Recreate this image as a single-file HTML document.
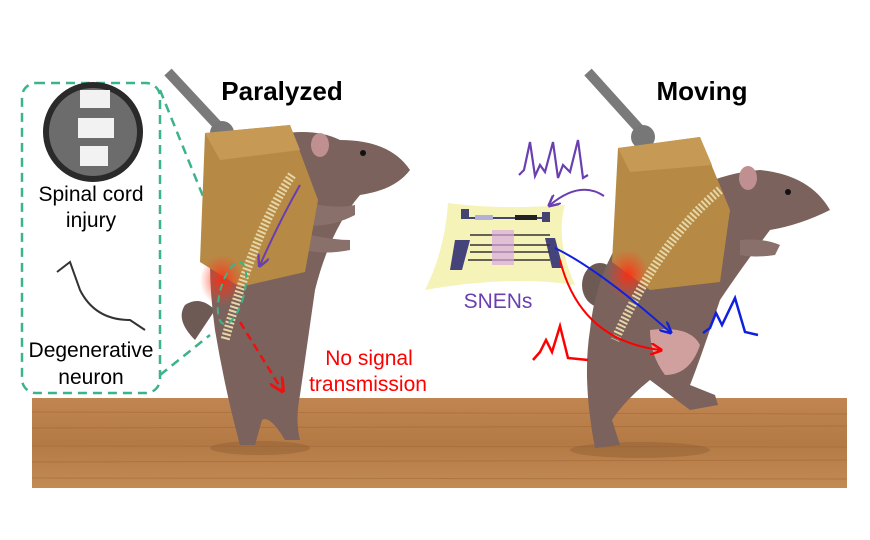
<!DOCTYPE html>
<html><head><meta charset="utf-8"><style>
html,body{margin:0;padding:0;background:#fff;}
svg{display:block;font-family:"Liberation Sans",sans-serif;}
</style></head><body>
<svg width="870" height="540" viewBox="0 0 870 540" xmlns="http://www.w3.org/2000/svg">
<defs>
<linearGradient id="wood" x1="0" y1="0" x2="0" y2="1">
<stop offset="0" stop-color="#c08550"/><stop offset="0.5" stop-color="#b47a45"/><stop offset="1" stop-color="#c28a55"/>
</linearGradient>
<radialGradient id="glow"><stop offset="0" stop-color="#ff2a10" stop-opacity="0.9"/><stop offset="1" stop-color="#ff4020" stop-opacity="0"/></radialGradient>
<marker id="ar" viewBox="0 0 10 10" refX="8" refY="5" markerWidth="6" markerHeight="6" orient="auto"><path d="M0,0 L10,5 L0,10" fill="none" stroke="context-stroke" stroke-width="2"/></marker>
</defs>
<rect x="32" y="398" width="815" height="90" fill="url(#wood)"/>
<g stroke="#9e6535" stroke-width="1" opacity="0.5">
<line x1="32" y1="412" x2="847" y2="414"/><line x1="32" y1="428" x2="847" y2="426"/><line x1="32" y1="446" x2="847" y2="447"/><line x1="32" y1="462" x2="847" y2="460"/><line x1="32" y1="478" x2="847" y2="479"/>
</g>
<ellipse cx="260" cy="448" rx="50" ry="7" fill="#8a5a30" opacity="0.4"/>
<ellipse cx="640" cy="450" rx="70" ry="8" fill="#8a5a30" opacity="0.4"/>
<rect x="22" y="83" width="138" height="310" rx="14" fill="none" stroke="#3db38a" stroke-width="2.5" stroke-dasharray="9,6"/>
<path d="M160,90 L228,258 M160,375 L210,335" stroke="#3db38a" stroke-width="2.5" stroke-dasharray="9,6" fill="none"/>
<circle cx="93" cy="132" r="47" fill="#6c6c6c" stroke="#2a2a2a" stroke-width="6"/>
<path d="M80,90 h30 v18 h-30z M78,118 h36 v20 h-36z M80,146 h28 v20 h-28z" fill="#f2f2f2"/>
<text x="91" y="201" font-size="21" text-anchor="middle">Spinal  cord</text>
<text x="91" y="227" font-size="21" text-anchor="middle">injury</text>
<path d="M57,272 L70,262 L80,290 Q95,320 130,320 L145,330" stroke="#333" stroke-width="2" fill="none"/>
<text x="91" y="357" font-size="21" text-anchor="middle">Degenerative</text>
<text x="91" y="384" font-size="21" text-anchor="middle">neuron</text>
<!-- LEFT RAT -->
<line x1="168" y1="72" x2="222" y2="130" stroke="#7a7a7a" stroke-width="10"/>
<circle cx="222" cy="133" r="12" fill="#777"/>
<path d="M195,340 Q175,320 185,305 Q200,295 215,310" fill="#6e5a55"/>
<path d="M225,150 Q300,120 340,140 Q390,140 410,170 Q395,190 360,195 Q330,230 315,290 Q305,360 300,395 Q295,420 300,440 L285,440 Q270,415 262,420 L255,445 L240,445 Q225,390 215,330 Q205,260 215,200 Z" fill="#7b625c"/>
<path d="M300,200 Q330,210 355,205 L355,215 Q330,228 305,225Z M310,235 Q335,240 350,240 L350,250 Q325,255 305,250Z" fill="#8a706a"/>
<circle cx="363" cy="153" r="3" fill="#111"/>
<ellipse cx="320" cy="145" rx="9" ry="12" fill="#c09090"/>
<path d="M205,133 L290,125 L318,200 L305,272 L240,287 L200,262 Z" fill="#b68a45"/>
<path d="M205,133 L290,125 L300,150 L220,160Z" fill="#c69a55"/>
<ellipse cx="222" cy="280" rx="22" ry="26" fill="url(#glow)"/>
<path d="M292,175 Q255,230 225,340" stroke="#e6d7a8" stroke-width="9" fill="none" stroke-dasharray="2,2"/>
<ellipse cx="232" cy="293" rx="12" ry="32" fill="none" stroke="#3db38a" stroke-width="2" stroke-dasharray="7,5" transform="rotate(15 232 293)"/>
<path d="M300,185 Q280,220 260,265" stroke="#6a3fb0" stroke-width="2" fill="none" marker-end="url(#ar)"/>
<path d="M240,322 L282,390" stroke="#e11" stroke-width="2.5" stroke-dasharray="8,5" fill="none" marker-end="url(#ar)"/>
<text x="369" y="365" font-size="21" fill="#f00" text-anchor="middle">No signal</text>
<text x="368" y="391" font-size="21" fill="#f00" text-anchor="middle">transmission</text>
<text x="282" y="100" font-size="26" font-weight="bold" text-anchor="middle">Paralyzed</text>
<!-- RIGHT RAT -->
<line x1="588" y1="72" x2="643" y2="133" stroke="#7a7a7a" stroke-width="10"/>
<circle cx="643" cy="137" r="12" fill="#777"/>
<ellipse cx="600" cy="285" rx="18" ry="22" fill="#6e5a55"/>
<path d="M620,240 Q690,175 760,170 Q810,175 830,210 Q800,225 770,230 Q740,270 720,300 Q700,360 690,385 L715,395 L718,405 L690,410 Q670,395 650,380 Q625,400 612,420 L620,445 L595,448 Q582,380 590,330 Q595,280 620,240Z" fill="#7b625c"/>
<path d="M650,330 Q690,325 700,345 Q690,375 665,375 Q650,355 650,330Z" fill="#e6b0b0" opacity="0.8"/>
<path d="M740,240 Q765,238 780,245 L775,255 Q755,258 740,255Z" fill="#8a706a"/>
<circle cx="788" cy="192" r="3" fill="#111"/>
<ellipse cx="748" cy="178" rx="9" ry="12" fill="#c09090"/>
<path d="M618,148 L700,137 L730,210 L720,282 L650,290 L612,262 Z" fill="#b68a45"/>
<path d="M618,148 L700,137 L712,165 L630,172Z" fill="#c69a55"/>
<ellipse cx="628" cy="275" rx="22" ry="26" fill="url(#glow)"/>
<path d="M720,190 Q660,240 615,340" stroke="#e6d7a8" stroke-width="9" fill="none" stroke-dasharray="2,2"/>
<text x="702" y="100" font-size="26" font-weight="bold" text-anchor="middle">Moving</text>
<!-- SNENs -->
<path d="M448,203 Q500,210 565,205 Q555,240 575,285 Q510,275 425,290 Q445,250 448,203Z" fill="#f6f3b8"/>
<path d="M462,210 h6 v8 h-6z M543,213 h6 v8 h-6z M468,218 h80" stroke="#444470" stroke-width="2" fill="#444470"/>
<rect x="475" y="215" width="18" height="5" fill="#b0b0d8"/><rect x="515" y="215" width="22" height="5" fill="#222"/>
<path d="M455,240 L470,240 L462,270 L450,270Z M545,238 L555,238 L563,268 L552,268Z" fill="#44447a"/>
<path d="M470,235 h80 M470,245 h80 M470,252 h80 M468,260 h82" stroke="#333" stroke-width="1.5"/>
<rect x="492" y="230" width="22" height="35" fill="#d8a8e0" opacity="0.7"/>
<text x="498" y="308" font-size="21" fill="#6a3fb0" text-anchor="middle">SNENs</text>
<path d="M519,175 L524,170 L530,142 L535,176 L540,165 L545,172 L553,142 L558,178 L563,165 L570,172 L578,140 L583,178 L588,175" stroke="#6a3fb0" stroke-width="2.2" fill="none"/>
<path d="M604,196 Q580,180 550,205" stroke="#6a3fb0" stroke-width="2" fill="none" marker-end="url(#ar)"/>
<path d="M555,248 Q600,270 670,332" stroke="#1020e0" stroke-width="2" fill="none" marker-end="url(#ar)"/>
<path d="M560,260 Q580,340 660,350" stroke="#f00" stroke-width="2" fill="none" marker-end="url(#ar)"/>
<path d="M533,360 L540,352 L546,340 L552,352 L560,326 L568,358 L588,360" stroke="#f00" stroke-width="2.5" fill="none"/>
<path d="M703,333 L710,328 L716,313 L722,325 L735,298 L745,332 L758,335" stroke="#1020e0" stroke-width="2.5" fill="none"/>
</svg>
</body></html>
